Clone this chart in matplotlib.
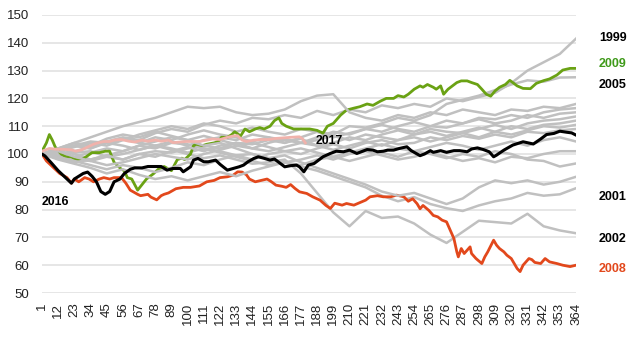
import matplotlib
matplotlib.use("Agg")
import matplotlib.pyplot as plt

plt.rcParams['font.family'] = ['Liberation Sans', 'DejaVu Sans']

# day-of-year axis, labelled every 11 days
DAY_TICKS = list(range(1, 365, 11))

# grey years at the tick days
Y1999 = [100, 101.5, 103, 102, 104.5, 106, 105, 107.5, 109, 108, 110.5, 112, 111, 113, 112.5, 114, 113,
         115.5, 114, 116, 115, 117.5, 116.5, 118, 117, 120, 119, 120.5, 122, 125.5, 130, 133, 136, 141.5]
Y2000 = [100, 101, 102.5, 104, 103, 105, 107, 108.5, 110, 109, 111, 110, 108, 109.5, 108, 107, 109,
         108, 106, 107.5, 109, 108, 110, 111.5, 110, 112, 111, 113, 112.5, 114, 113, 115, 116, 116.5]
Y2001 = [100, 101, 100, 98, 99.5, 101, 103, 102, 104, 103.5, 102, 100.5, 99, 97.5, 96, 97, 95.5,
         94, 92, 90, 88, 85, 83, 84.5, 82, 80.5, 79.5, 81.5, 83, 84, 86, 85, 85.5, 87.7]
Y2002 = [100, 102, 103, 104.5, 104, 105.5, 104, 103, 101.5, 100, 98.5, 99.5, 98, 96.5, 97, 98, 93,
         86, 79, 74, 79.5, 77, 77.5, 75, 71, 68, 72, 76, 75.5, 75, 78.5, 74, 72.5, 71.5]
Y2003 = [100, 99.5, 101, 102.5, 104, 105.5, 104, 106, 105, 107, 108.5, 107, 106, 104.5, 106, 105, 104,
         106, 108, 107, 109, 110.5, 109, 108, 110, 109.5, 111, 112.5, 111, 112, 114, 113, 114.5, 115]
Y2004 = [100, 100.5, 99, 100.5, 102, 101, 103, 104.5, 106, 105, 106.5, 105, 103.5, 104, 102.5, 101, 102,
         100.5, 99, 100.5, 102, 103.5, 102, 101, 102.5, 104, 103, 101.5, 103, 104.5, 103, 105, 106, 104.5]
Y2005 = [100, 99, 98, 97.5, 99, 98, 100, 101, 100.5, 102, 103, 102, 104, 103.5, 105, 104, 106,
         108, 107, 110, 109.5, 111, 113, 112, 114, 118, 119.5, 121, 123, 125, 126.5, 126, 127.5, 127.6]
Y2006 = [100, 102, 100.5, 101, 99, 100, 101.5, 103, 104.5, 103, 105, 106, 105, 107, 106, 104, 105.5,
         103, 104, 106, 105, 107, 108.5, 107, 109, 108, 107.5, 109, 110.5, 109, 111, 112, 112.5, 113.5]
Y2007 = [100, 101.5, 103, 102, 104, 103, 101.5, 103, 102, 100.5, 102, 101, 99.5, 100, 98.5, 97, 98,
         99.5, 98, 100, 101, 99.5, 98, 99, 100.5, 99, 97.5, 98.5, 97, 99, 98.5, 100, 101, 101]
Y2010 = [100, 98.5, 97, 98, 99.5, 98, 100, 99, 101, 102.5, 101, 103, 104, 102, 101, 102.5, 104,
         105, 106.5, 105, 107, 106, 105, 107, 108, 106.5, 108, 109.5, 108, 110, 109, 110.5, 111, 112]
Y2011 = [100, 98, 96.5, 95, 93, 94.5, 92.5, 91, 92, 90.5, 92, 93.5, 92, 94, 95.5, 97, 96,
         98, 99, 97.5, 99, 100.5, 99, 101, 100, 98.5, 100, 99, 101, 100, 98, 97.5, 95.5, 96.6]
Y2012 = [100, 101, 99, 97.5, 96, 97, 98.5, 100, 99, 98, 100, 101.5, 103, 102, 104, 105.5, 104,
         103, 101.5, 103, 104.5, 103, 105, 106, 104.5, 106, 107.5, 106, 108, 107, 108.5, 110, 109.5, 110.5]
Y2013 = [100, 102, 104, 106, 108, 110, 111.5, 113, 115, 117, 116.5, 117, 115, 114, 114.5, 116, 119,
         121, 121.5, 115, 113, 112, 114, 113, 115, 114, 116, 115, 114, 116, 115.5, 117, 116.5, 118]
Y2014 = [100, 99, 97.5, 96, 94.5, 96, 95, 93.5, 95, 97, 96, 98, 99.5, 98, 100, 101, 100,
         102, 103.5, 102, 104, 105, 103.5, 104, 106, 105, 106.5, 105.5, 107, 106, 108, 107.5, 108.5, 109]
Y2015 = [100, 102, 104, 103, 105.5, 107, 106, 108, 106.5, 105, 103, 104, 102, 100, 98.5, 99.5, 97,
         95, 93, 91, 89, 86.5, 85, 86, 84, 82, 84, 88, 90.5, 89.5, 90.5, 89, 90, 91.8]

# highlighted years, (day, index)
P2008 = [(1, 100), (4, 97.5), (9, 95), (13, 93), (18, 91.5), (21, 89.5), (23, 91), (26, 90), (30, 91.5),
         (33, 91), (36, 90), (40, 91), (43, 91.5), (47, 91), (50, 91.5), (55, 91.5), (58, 89.5), (61, 87),
         (66, 85.5), (68, 85), (73, 85.5), (75, 84.5), (79, 83.5), (82, 85), (84, 85.5), (87, 86),
         (92, 87.5), (97, 88), (102, 88), (108, 88.5), (113, 90), (118, 90.5), (122, 91.5), (127, 91.8),
         (131, 92.4), (134, 93.6), (137, 93.5), (140, 92.5), (142, 91), (146, 90), (150, 90.5), (154, 91),
         (157, 90), (160, 88.8), (164, 88.4), (167, 88), (170, 89), (173, 87.6), (176, 86.4), (181, 85.8),
         (185, 84.6), (190, 83.4), (194, 81.5), (197, 80.4), (200, 82.3), (205, 81.6), (208, 82.2),
         (213, 81.6), (217, 82.5), (221, 83.4), (224, 84.6), (229, 85), (233, 84.6), (238, 84.6),
         (242, 85.2), (247, 84.6), (250, 83), (253, 83.9), (256, 82.1), (258, 80.3), (260, 81.5),
         (264, 79.7), (267, 77.9), (270, 77.4), (273, 76.2), (276, 75.6), (278, 73.2), (281, 69.6),
         (283, 64.8), (284, 63), (286, 66), (288, 64.2), (290, 65.4), (292, 66.6), (293, 64.2),
         (296, 62.4), (300, 60.6), (302, 63), (304, 64.8), (308, 69), (310, 67.2), (312, 66),
         (315, 64.8), (317, 63.6), (320, 62.4), (324, 58.8), (326, 57.7), (328, 60), (332, 62.4),
         (334, 62), (336, 61), (340, 60.6), (343, 62.4), (346, 61.2), (351, 60.6), (355, 60),
         (360, 59.5), (364, 60)]
P2009 = [(1, 101), (4, 104), (6, 107), (8, 105), (10, 102.5), (14, 100), (17, 99), (21, 99), (24, 98),
         (28, 98), (31, 99), (35, 100.5), (40, 100.5), (44, 101), (47, 101), (50, 97), (55, 94.5),
         (57, 94), (59, 91.5), (62, 91), (66, 87), (69, 89), (72, 91), (77, 93), (80, 94.5), (84, 95.5),
         (89, 94), (93, 98), (96, 98.5), (98, 98), (102, 100), (104, 103), (106, 103.5), (110, 103),
         (113, 103.5), (118, 104), (121, 104.5), (123, 106), (127, 106), (130, 107), (132, 108),
         (136, 106.5), (139, 109), (142, 108), (146, 109), (149, 109.5), (152, 109), (156, 110),
         (159, 112), (162, 113), (164, 111), (167, 110), (172, 109), (176, 109), (183, 109),
         (188, 108.5), (192, 107.5), (195, 110), (199, 111), (204, 114), (208, 115.8), (213, 116.5),
         (217, 117), (222, 118), (226, 117.5), (231, 119), (235, 120), (240, 120), (243, 121),
         (247, 120.5), (250, 121.5), (254, 123.3), (258, 124.5), (260, 124), (263, 125), (267, 124),
         (269, 123.3), (272, 124.5), (274, 121.5), (277, 123.3), (280, 124.5), (283, 125.7),
         (286, 126.3), (290, 126.3), (293, 125.7), (297, 125), (300, 123.3), (303, 121.5), (306, 120.8),
         (309, 122.7), (312, 124), (316, 125), (319, 126.5), (321, 125.7), (324, 124.5), (328, 123.6),
         (333, 123.5), (337, 125.4), (342, 126.4), (346, 127), (351, 128.4), (355, 130.2), (360, 130.8),
         (364, 130.8)]
P2016 = [(1, 100), (3, 99.3), (7, 97), (12, 94), (16, 92), (21, 89.5), (23, 91), (26, 92), (29, 93),
         (32, 93.5), (35, 92), (38, 90), (41, 86.5), (44, 85.5), (47, 86.5), (50, 90), (54, 91), (57, 93),
         (61, 94.5), (64, 95), (69, 95), (73, 95.5), (78, 95.5), (82, 95.5), (86, 94.2), (90, 94.8),
         (95, 94.8), (97, 93.6), (102, 95.4), (104, 97.8), (107, 98.4), (111, 97.2), (114, 97.2),
         (119, 97.8), (122, 96.3), (127, 94.2), (131, 94.8), (135, 95.4), (138, 96), (141, 97.2),
         (145, 98.4), (148, 99), (151, 98.6), (156, 97.8), (159, 98.2), (163, 96.6), (166, 95.4),
         (170, 95.8), (174, 96), (176, 95.4), (179, 93.6), (182, 96), (186, 96.6), (189, 97.8),
         (192, 99), (197, 100.2), (201, 101), (206, 100.8), (210, 101.4), (215, 100.2), (218, 100.8),
         (222, 101.6), (226, 101.4), (229, 100.8), (233, 101), (236, 101.4), (240, 101.4), (244, 102),
         (249, 102.6), (252, 101.2), (256, 100), (258, 99.4), (261, 100), (265, 101.2), (267, 100.6),
         (272, 101.2), (276, 100.6), (281, 101.2), (285, 101.2), (290, 100.8), (293, 101.8),
         (297, 102.2), (301, 101.6), (305, 100.8), (308, 99), (310, 99.6), (315, 101.4), (321, 103.2),
         (328, 104.4), (335, 103.6), (340, 105.4), (344, 107), (349, 107.4), (353, 108.2), (358, 107.8),
         (361, 107.6), (364, 106.8)]
P2017 = [(1, 101), (6, 102), (11, 101.7), (15, 101.7), (21, 101.5), (24, 101), (28, 101.5), (32, 102.5),
         (36, 103.5), (39, 104), (43, 104.5), (47, 104.5), (50, 105), (55, 105.2), (60, 104.6),
         (64, 104.3), (69, 105), (73, 104.6), (78, 105), (82, 104.6), (87, 105), (90, 104.1),
         (99, 104.5), (108, 104.5), (117, 105.4), (122, 105.2), (127, 106), (131, 106.5), (134, 106.6),
         (137, 105), (140, 104.5), (145, 105), (150, 105.2), (155, 105.2), (160, 105.6), (165, 105.8),
         (170, 106), (176, 106.2), (178, 105.5), (180, 104)]

GREY = "#c0c0c0"

fig = plt.figure(figsize=(6.4, 3.39), dpi=100)
ax = fig.add_axes([42 / 640, 1 - 293 / 339, 534 / 640, 278 / 339])

# drawn in year order so later greys sit on top of 2008/2009
for ys in [Y1999, Y2000, Y2001, Y2002, Y2003, Y2004, Y2005, Y2006, Y2007]:
    ax.plot(DAY_TICKS, ys, color=GREY, lw=1.8, zorder=2)
for pts, col in [(P2008, "#e2481c"), (P2009, "#6aa214")]:
    d, v = zip(*pts)
    ax.plot(d, v, color=col, lw=2.0, zorder=2)
for ys in [Y2010, Y2011, Y2012, Y2013, Y2014, Y2015]:
    ax.plot(DAY_TICKS, ys, color=GREY, lw=1.8, zorder=2)
d, v = zip(*P2016)
ax.plot(d, v, color="black", lw=2.2, zorder=3)
d, v = zip(*P2017)
ax.plot(d, v, color="#f0b2ab", lw=2.0, zorder=3)

ax.set_xlim(1, 364)
ax.set_ylim(50, 150)
ax.set_yticks(range(50, 151, 10))
ax.set_xticks(DAY_TICKS)
ax.set_xticklabels([str(t) for t in DAY_TICKS], rotation=90)
ax.yaxis.grid(True, color="#e2e2e2", lw=1.2)
ax.set_axisbelow(True)
for s in ax.spines.values():
    s.set_visible(False)
ax.tick_params(length=0, labelsize=9.5, colors="#222222")
ax.tick_params(axis="y", pad=9)
ax.tick_params(axis="x", pad=7)

ax.text(1, 82.7, "2016", fontsize=8.8, fontweight="bold", va="center", ha="left")
ax.text(196, 104.7, "2017", fontsize=8.8, fontweight="bold", va="center", ha="center")
for yr, val, col in [("1999", 141.7, "black"), ("2009", 132.4, "#3f9a1a"), ("2005", 124.8, "black"),
                     ("2001", 84.5, "black"), ("2002", 69.4, "black"), ("2008", 58.6, "#e2481c")]:
    ax.text(379.6, val, yr, fontsize=9, fontweight="bold", color=col, va="center", ha="left", clip_on=False)

fig.savefig("out.png", dpi=100)
